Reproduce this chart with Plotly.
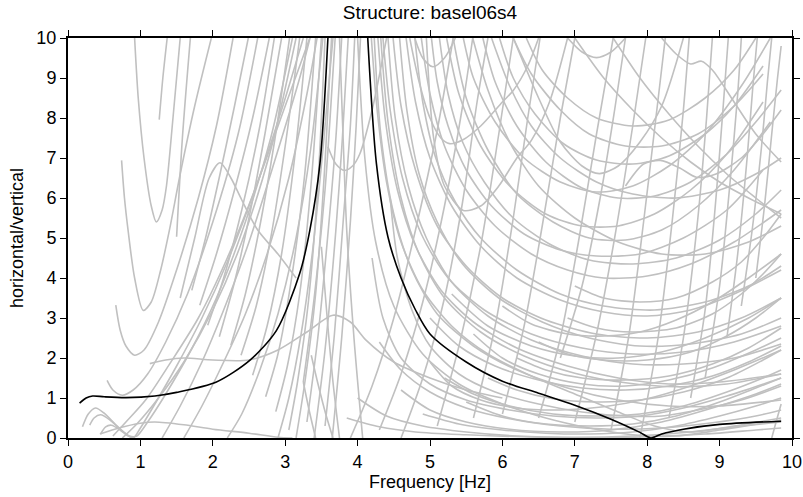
import plotly.graph_objects as go

# ---------------- data ----------------
title_text = "Structure: basel06s4"
x_label = "Frequency [Hz]"
y_label = "horizontal/vertical"
x_ticks = [0, 1, 2, 3, 4, 5, 6, 7, 8, 9, 10]
y_ticks = [0, 1, 2, 3, 4, 5, 6, 7, 8, 9, 10]

# best model ellipticity (black curve)
black_left_freq = [0.16, 0.25, 0.34, 0.5, 0.8, 1.2, 1.5, 2.05, 2.51, 2.88, 3.2, 3.34, 3.48, 3.59]
black_left_hv = [0.87, 1.0, 1.05, 1.03, 1.01, 1.05, 1.14, 1.40, 1.94, 2.69, 4.11, 5.19, 6.86, 10.0]
black_right_freq = [4.14, 4.26, 4.42, 4.6, 4.8, 5.0, 5.5, 6.0, 6.5, 7.0, 7.5, 7.9, 8.05, 8.2, 8.5, 9.0, 9.85]
black_right_hv = [10.0, 6.86, 5.02, 4.0, 3.2, 2.6, 1.9, 1.42, 1.12, 0.82, 0.47, 0.14, 0.0, 0.1, 0.22, 0.34, 0.42]

# gray curves, low-frequency region: (freq, hv) pairs
gray_low = [
    ([0.92, 0.97, 1.05, 1.15, 1.22, 1.30, 1.36, 1.45, 1.55], [10, 8.5, 7.0, 5.8, 5.4, 5.7, 6.3, 8.0, 10]),
    ([1.26, 1.31, 1.37], [7.96, 9.0, 10]),
    ([0.74, 0.78, 0.83, 0.92, 1.04, 1.15, 1.28, 1.40, 1.55, 1.75, 1.98], [6.94, 6.0, 5.19, 4.0, 3.19, 3.4, 4.2, 5.19, 6.6, 8.3, 10]),
    ([0.66, 0.72, 0.80, 0.92, 1.05, 1.25, 1.5, 1.8, 2.05, 2.28], [3.32, 2.7, 2.3, 2.07, 2.2, 2.9, 4.2, 6.0, 7.8, 10]),
    ([0.54, 0.62, 0.75, 0.9, 1.1, 1.35, 1.65, 2.0, 2.35, 2.62], [1.44, 1.2, 1.07, 1.2, 1.6, 2.4, 3.6, 5.4, 7.6, 10]),
    ([0.2, 0.28, 0.38, 0.5, 0.65, 0.8, 0.9, 1.0, 1.2, 1.5, 1.85, 2.2, 2.6, 2.95, 3.25], [0.28, 0.6, 0.75, 0.62, 0.35, 0.1, 0.0, 0.25, 0.85, 1.8, 3.0, 4.4, 6.3, 8.2, 10]),
    ([0.3, 0.36, 0.45, 0.58, 0.72, 0.85, 0.95, 1.1, 1.35, 1.7, 2.05, 2.45, 2.8, 3.1], [0.32, 0.5, 0.58, 0.45, 0.22, 0.05, 0.05, 0.4, 1.1, 2.2, 3.5, 5.4, 7.5, 10]),
    ([0.45, 0.52, 0.6, 0.72, 0.82, 0.92], [0.1, 0.28, 0.32, 0.2, 0.06, 0.0]),
    ([0.62, 0.8, 1.08, 1.4, 1.8, 2.2, 2.6, 3.0, 3.4], [0.05, 0.4, 0.97, 1.84, 3.0, 4.5, 6.3, 8.3, 10.3]),
    ([0.75, 0.95, 1.25, 1.6, 2.0, 2.4, 2.8, 3.15], [0.0, 0.35, 1.0, 1.9, 3.2, 4.9, 7.2, 10]),
    ([0.44, 0.7, 1.0, 1.2, 1.6, 2.0, 2.5, 2.9, 3.1], [0.1, 0.25, 0.37, 0.4, 0.33, 0.22, 0.12, 0.02, 0.0]),
    ([1.13, 1.35, 1.6, 2.0, 2.5, 2.9, 3.3, 3.66, 3.9, 4.12, 4.5, 5.0, 5.5, 6.0], [1.86, 1.95, 2.0, 1.95, 1.95, 2.2, 2.65, 3.07, 2.9, 2.44, 1.9, 1.5, 1.2, 1.0]),
    ([1.55, 1.75, 1.95, 2.1, 2.25, 2.4, 2.62, 2.9, 3.15], [3.5, 5.0, 6.5, 6.88, 6.5, 5.95, 5.2, 4.6, 4.0]),
    ([1.3, 1.55, 1.85, 2.15, 2.5, 2.85, 3.2, 3.37], [0.0, 0.8, 1.9, 3.2, 4.9, 6.9, 9.0, 10.2]),
    ([1.6, 1.85, 2.15, 2.45, 2.75, 3.05, 3.3, 3.45], [0.0, 0.8, 1.9, 3.1, 4.6, 6.5, 8.6, 10.1]),
    ([2.2, 2.4, 2.65, 2.9, 3.15, 3.35, 3.52], [0.0, 0.6, 1.7, 3.1, 5.0, 7.2, 10]),
    ([2.9, 3.05, 3.22, 3.38, 3.52, 3.66], [0.0, 1.0, 2.6, 4.7, 7.2, 10]),
]

# gray higher-mode branches that start above the axis
gray_cutoff = [
    ([1.50, 1.58, 1.69], [5.03, 7.5, 10]),
    ([1.71, 1.9, 2.1, 2.3, 2.49], [3.69, 5.0, 6.6, 8.3, 10]),
    ([1.82, 2.05, 2.3, 2.55, 2.78], [3.32, 4.6, 6.2, 8.0, 10]),
    ([1.93, 2.15, 2.4, 2.65, 2.85], [2.82, 4.0, 5.7, 7.8, 10]),
    ([2.09, 2.3, 2.5, 2.72, 2.95], [2.53, 3.9, 5.5, 7.6, 10]),
    ([2.25, 2.45, 2.65, 2.86, 3.06], [2.32, 3.6, 5.3, 7.5, 10]),
    ([2.39, 2.6, 2.8, 3.0, 3.2], [2.07, 3.3, 5.0, 7.3, 10]),
    ([2.55, 2.75, 2.95, 3.13, 3.3], [1.57, 2.8, 4.6, 7.0, 10]),
    ([2.73, 2.9, 3.08, 3.27, 3.42], [1.03, 2.1, 3.9, 6.6, 10]),
    ([2.87, 3.03, 3.2, 3.36, 3.5], [0.66, 1.8, 3.6, 6.4, 10]),
    ([3.05, 3.17, 3.32, 3.45, 3.55], [0.2, 1.4, 3.4, 6.3, 10]),
    ([3.15, 3.28, 3.42, 3.54, 3.64], [0.0, 1.5, 3.6, 6.6, 10]),
    ([3.25, 3.4, 3.55, 3.62, 3.69], [1.4, 3.5, 6.2, 8.0, 10]),
    ([3.3, 3.45, 3.6, 3.7, 3.78], [0.4, 2.5, 5.3, 7.5, 10]),
    ([3.4, 3.55, 3.7, 3.79, 3.87], [0.0, 2.2, 5.2, 7.5, 10]),
    ([3.55, 3.68, 3.8, 3.9, 3.96], [0.3, 2.6, 5.4, 7.8, 10]),
    ([3.65, 3.78, 3.9, 3.98, 4.04], [0.0, 2.5, 5.4, 7.8, 10]),
    ([3.59, 3.7, 3.82, 3.93, 4.03, 4.2, 4.4], [7.28, 6.85, 6.69, 6.8, 7.1, 8.2, 10]),
    ([3.5, 3.58, 3.66, 3.75], [4.78, 3.0, 1.4, 0.0]),
    ([3.25, 3.33, 3.42], [1.4, 0.7, 0.0]),
    ([3.36, 3.46, 3.56, 3.66], [2.07, 1.3, 0.6, 0.0]),
    ([3.75, 3.8, 3.85, 3.95, 4.07], [10, 7.5, 5.19, 2.5, 0.0]),
]

# gray descending branches and arcs (high-frequency side)
gray_arcs = [
    ([4.19, 4.27, 4.4, 4.6, 4.9, 5.3, 5.8, 6.4, 7.0, 7.6, 8.1, 8.6, 9.2, 9.85], [10, 8.2, 6.4, 4.9, 3.7, 2.8, 2.1, 1.55, 1.1, 0.65, 0.3, 0.15, 0.3, 0.5]),
    ([4.28, 4.38, 4.55, 4.8, 5.15, 5.6, 6.2, 6.9, 7.6, 8.3, 9.0, 9.85], [10, 8.0, 6.2, 4.8, 3.7, 2.9, 2.25, 1.8, 1.5, 1.35, 1.4, 1.6]),
    ([4.35, 4.45, 4.62, 4.88, 5.25, 5.75, 6.4, 7.1, 7.8, 8.5, 9.2, 9.85], [10, 8.2, 6.5, 5.1, 4.0, 3.2, 2.6, 2.25, 2.1, 2.15, 2.4, 2.8]),
    ([4.49, 4.6, 4.8, 5.1, 5.5, 6.0, 6.6, 7.3, 8.0, 8.7, 9.3, 9.85], [10, 8.3, 6.7, 5.3, 4.3, 3.5, 2.95, 2.6, 2.5, 2.65, 3.0, 3.5]),
    ([4.67, 4.8, 5.0, 5.3, 5.7, 6.2, 6.8, 7.4, 8.0, 8.6, 9.2, 9.85], [10, 8.4, 7.0, 5.8, 4.8, 4.0, 3.45, 3.15, 3.05, 3.2, 3.6, 4.2]),
    ([4.88, 5.0, 5.2, 5.5, 5.9, 6.4, 6.9, 7.4, 8.0, 8.6, 9.2, 9.85], [10, 8.6, 7.3, 6.2, 5.3, 4.6, 4.2, 4.0, 4.05, 4.35, 4.9, 5.7]),
    ([5.02, 5.1, 5.25, 5.5, 5.85, 6.3, 6.8, 7.3, 7.9, 8.5, 9.1, 9.6], [10, 8.9, 7.8, 6.7, 5.8, 5.1, 4.7, 4.55, 4.6, 5.0, 5.7, 6.7]),
    ([5.23, 5.4, 5.7, 6.1, 6.6, 7.1, 7.6, 8.1, 8.6, 9.1, 9.6], [10, 8.6, 7.3, 6.3, 5.6, 5.3, 5.3, 5.6, 6.2, 7.1, 8.4]),
    ([5.46, 5.6, 5.9, 6.3, 6.8, 7.3, 7.8, 8.3, 8.8, 9.3, 9.7], [10, 9.0, 7.9, 7.0, 6.4, 6.15, 6.3, 6.8, 7.6, 8.8, 10]),
    ([4.72, 4.85, 5.0, 5.15, 5.27, 5.45, 5.7, 6.0, 6.15, 6.35, 6.5], [10, 8.9, 8.0, 7.5, 7.36, 7.45, 7.8, 8.4, 8.69, 9.3, 10]),
    ([4.95, 5.05, 5.2, 5.46, 5.7, 5.95, 6.2, 6.4, 6.65, 6.9], [10, 7.5, 6.3, 5.69, 5.8, 6.3, 7.0, 7.44, 8.4, 10]),
    ([4.79, 4.9, 5.04, 5.2, 5.35], [10, 9.5, 9.28, 9.5, 10]),
    ([6.9, 7.1, 7.3, 7.5, 7.7], [10, 9.65, 9.51, 9.65, 10]),
    ([6.15, 6.5, 6.8, 7.1, 7.34, 7.6, 7.9, 8.2, 8.5], [10, 8.5, 7.4, 6.8, 6.61, 6.8, 7.4, 8.3, 10]),
    ([4.0, 4.1, 4.25, 4.5, 4.9, 5.4, 6.0, 6.6, 7.2, 7.8, 8.4, 9.0, 9.85], [10, 7.0, 4.9, 3.3, 2.1, 1.35, 0.85, 0.5, 0.25, 0.08, 0.05, 0.2, 0.45]),
    ([4.45, 4.55, 4.75, 5.0, 5.4, 5.9, 6.5, 7.1, 7.7, 8.2, 8.7, 9.3, 9.85], [6.0, 4.5, 3.2, 2.3, 1.6, 1.15, 0.85, 0.65, 0.55, 0.55, 0.7, 0.95, 1.3]),
    ([4.2, 4.35, 4.6, 5.0, 5.5, 6.1, 6.7, 7.3, 7.9, 8.5, 9.1, 9.85], [4.5, 3.0, 2.0, 1.35, 0.95, 0.7, 0.55, 0.5, 0.55, 0.75, 1.05, 1.5]),
    ([5.0, 5.3, 5.7, 6.2, 6.8, 7.4, 8.0, 8.6, 9.2, 9.85], [1.9, 1.3, 0.95, 0.75, 0.7, 0.78, 0.98, 1.3, 1.7, 2.2]),
    ([4.6, 5.0, 5.5, 6.1, 6.8, 7.5, 8.2, 8.9, 9.5, 9.85], [1.2, 0.7, 0.4, 0.22, 0.15, 0.2, 0.4, 0.75, 1.1, 1.35]),
    ([5.6, 6.0, 6.5, 7.1, 7.7, 8.3, 8.9, 9.5, 9.85], [2.6, 2.0, 1.6, 1.35, 1.3, 1.45, 1.75, 2.2, 2.5]),
    ([4.0, 4.4, 4.9, 5.5, 6.2, 7.0, 7.8, 8.6, 9.3, 9.85], [1.0, 0.55, 0.3, 0.15, 0.05, 0.02, 0.05, 0.15, 0.3, 0.4]),
    ([3.85, 4.3, 4.8, 5.5, 6.3, 7.2, 8.0, 8.8, 9.5, 9.85], [0.5, 0.28, 0.15, 0.08, 0.03, 0.0, 0.03, 0.1, 0.2, 0.25]),
    ([5.3, 5.8, 6.4, 7.0, 7.6, 8.2, 8.8, 9.4, 9.85], [3.6, 2.8, 2.3, 2.05, 2.0, 2.15, 2.5, 3.0, 3.5]),
    ([6.0, 6.4, 6.9, 7.4, 7.9, 8.4, 8.9, 9.4, 9.85], [3.3, 2.85, 2.6, 2.55, 2.65, 2.95, 3.4, 4.0, 4.6]),
    ([7.7, 7.95, 8.18, 8.45, 8.68, 8.95, 9.3, 9.6, 9.85], [6.3, 6.85, 6.94, 6.75, 6.52, 6.6, 7.0, 7.6, 8.2]),
    ([8.2, 8.4, 8.6, 8.75, 8.9, 9.2, 9.5, 9.85], [10, 9.6, 9.35, 9.42, 9.2, 8.4, 7.6, 6.9]),
    ([5.59, 5.8, 6.1, 6.5, 7.0, 7.6, 8.2, 8.8, 9.4, 9.85], [10, 8.7, 7.4, 6.3, 5.5, 4.9, 4.6, 4.6, 4.9, 5.3]),
    ([5.85, 6.1, 6.4, 6.8, 7.3, 7.8, 8.4, 9.0, 9.5, 9.85], [10, 8.8, 7.8, 7.0, 6.4, 6.1, 6.0, 6.2, 6.6, 7.0]),
    ([6.15, 6.4, 6.8, 7.2, 7.7, 8.2, 8.7, 9.2, 9.6], [10, 9.1, 8.2, 7.6, 7.3, 7.3, 7.6, 8.3, 9.1]),
    ([7.0, 7.4, 7.8, 8.2, 8.6, 9.0, 9.4, 9.85], [10, 9.0, 8.2, 7.5, 6.9, 6.4, 6.0, 5.6]),
    ([7.53, 7.9, 8.3, 8.7, 9.1, 9.5, 9.85], [10, 9.0, 8.1, 7.3, 6.6, 6.0, 5.5]),
]

# more gray right branches falling from the top edge
gray_falling = [
    ([4.23, 4.32, 4.5, 4.75, 5.1, 5.6, 6.2, 6.9, 7.6, 8.3, 9.0, 9.85], [10, 7.6, 5.6, 4.2, 3.1, 2.3, 1.7, 1.25, 0.95, 0.8, 0.8, 0.95]),
    ([4.32, 4.42, 4.6, 4.85, 5.2, 5.7, 6.3, 7.0, 7.7, 8.4, 9.1, 9.85], [10, 7.9, 6.0, 4.6, 3.5, 2.65, 2.05, 1.62, 1.38, 1.28, 1.35, 1.6]),
    ([4.42, 4.52, 4.7, 4.95, 5.3, 5.8, 6.4, 7.1, 7.8, 8.5, 9.2, 9.85], [10, 8.0, 6.3, 5.0, 3.9, 3.05, 2.45, 2.05, 1.85, 1.85, 2.0, 2.35]),
    ([4.58, 4.68, 4.85, 5.1, 5.45, 5.95, 6.55, 7.2, 7.9, 8.6, 9.3, 9.85], [10, 8.2, 6.6, 5.4, 4.35, 3.5, 2.9, 2.5, 2.3, 2.35, 2.6, 3.0]),
    ([4.79, 4.9, 5.08, 5.35, 5.7, 6.2, 6.8, 7.4, 8.1, 8.8, 9.4, 9.85], [10, 8.4, 7.0, 5.9, 5.0, 4.2, 3.6, 3.3, 3.2, 3.4, 3.8, 4.3]),
    ([5.13, 5.25, 5.45, 5.75, 6.15, 6.65, 7.2, 7.8, 8.4, 9.0, 9.5, 9.85], [10, 8.6, 7.4, 6.4, 5.5, 4.85, 4.45, 4.35, 4.5, 4.95, 5.6, 6.2]),
    ([5.32, 5.5, 5.8, 6.2, 6.7, 7.2, 7.7, 8.2, 8.7, 9.2, 9.7], [10, 8.5, 7.2, 6.1, 5.4, 5.0, 4.95, 5.2, 5.8, 6.7, 7.9]),
    ([5.73, 5.9, 6.2, 6.6, 7.1, 7.6, 8.1, 8.6, 9.1, 9.5, 9.85], [10, 8.9, 7.8, 6.9, 6.25, 6.0, 6.05, 6.4, 7.1, 7.9, 8.7]),
    ([5.96, 6.15, 6.45, 6.85, 7.3, 7.8, 8.3, 8.8, 9.2, 9.6], [10, 9.0, 8.1, 7.35, 6.95, 6.85, 7.05, 7.6, 8.3, 9.3]),
    ([6.33, 6.55, 6.9, 7.3, 7.8, 8.3, 8.8, 9.2, 9.5], [10, 9.2, 8.5, 8.0, 7.8, 7.95, 8.5, 9.2, 10]),
    ([5.2, 5.6, 6.1, 6.7, 7.3, 7.9, 8.5, 9.1, 9.6, 9.85], [1.5, 1.1, 0.8, 0.6, 0.55, 0.6, 0.8, 1.15, 1.5, 1.7]),
    ([5.8, 6.2, 6.7, 7.3, 7.9, 8.5, 9.1, 9.6, 9.85], [1.5, 1.2, 0.98, 0.9, 0.95, 1.15, 1.5, 1.95, 2.2]),
    ([6.2, 6.6, 7.1, 7.7, 8.3, 8.9, 9.4, 9.85], [2.0, 1.7, 1.5, 1.45, 1.55, 1.85, 2.25, 2.75]),
    ([6.5, 6.9, 7.4, 8.0, 8.6, 9.1, 9.5, 9.85], [2.4, 2.1, 1.95, 1.95, 2.15, 2.55, 3.0, 3.5]),
    ([6.9, 7.3, 7.8, 8.4, 8.9, 9.3, 9.6, 9.85], [3.0, 2.75, 2.65, 2.75, 3.1, 3.6, 4.1, 4.6]),
    ([4.9, 5.4, 6.0, 6.6, 7.2, 7.8, 8.4, 9.0, 9.5, 9.85], [0.6, 0.35, 0.2, 0.12, 0.1, 0.15, 0.3, 0.55, 0.8, 1.0]),
    ([5.5, 6.0, 6.6, 7.2, 7.8, 8.4, 9.0, 9.5, 9.85], [0.9, 0.55, 0.35, 0.3, 0.35, 0.55, 0.9, 1.25, 1.5]),
    ([7.0, 7.4, 7.9, 8.4, 8.9, 9.3, 9.6, 9.85], [3.8, 3.5, 3.4, 3.5, 3.9, 4.4, 5.0, 5.6]),
    ([4.3, 4.6, 5.0, 5.5, 6.1, 6.8, 7.5, 8.2, 8.9, 9.5, 9.85], [2.4, 1.7, 1.15, 0.75, 0.48, 0.3, 0.22, 0.25, 0.38, 0.55, 0.7]),
    ([5.0, 5.4, 5.9, 6.5, 7.1, 7.7, 8.3, 8.9, 9.4, 9.85], [3.0, 2.3, 1.8, 1.45, 1.25, 1.2, 1.3, 1.55, 1.9, 2.3]),
]

# gray rising branches on the high-frequency side
gray_rising = [
    ([4.3, 4.6, 4.9, 5.2, 5.45, 5.59], [0.2, 1.6, 3.4, 5.8, 8.3, 10]),
    ([4.6, 4.9, 5.2, 5.45, 5.65, 5.8], [0.0, 1.5, 3.5, 5.9, 8.4, 10]),
    ([5.1, 5.4, 5.7, 5.95, 6.15], [0.3, 2.3, 4.8, 7.6, 10]),
    ([5.6, 5.9, 6.15, 6.35, 6.52], [0.5, 2.8, 5.5, 8.0, 10]),
    ([6.0, 6.3, 6.55, 6.8, 7.0], [0.6, 2.8, 5.3, 8.0, 10]),
    ([6.5, 6.8, 7.05, 7.3, 7.53], [0.5, 2.5, 4.9, 7.6, 10]),
    ([7.0, 7.3, 7.55, 7.8, 7.98], [0.4, 2.6, 5.0, 7.8, 10]),
    ([3.9, 4.2, 4.5, 4.8, 5.1, 5.32], [0.0, 1.3, 3.0, 5.2, 7.7, 10]),
    ([6.8, 7.1, 7.35, 7.55, 7.7], [2.0, 3.8, 6.0, 8.2, 10]),
    ([7.5, 7.75, 7.95, 8.12, 8.25], [0.2, 2.6, 5.4, 8.0, 10]),
    ([7.9, 8.15, 8.35, 8.5, 8.58], [0.0, 2.5, 5.5, 8.2, 10]),
    ([8.3, 8.5, 8.7, 8.82, 8.9], [0.5, 2.5, 5.5, 8.0, 10]),
    ([8.6, 8.8, 8.95, 9.05, 9.12], [1.0, 3.2, 6.0, 8.3, 10]),
    ([8.8, 9.0, 9.15, 9.25, 9.3], [1.5, 3.8, 6.5, 8.6, 10]),
    ([9.1, 9.25, 9.38, 9.46, 9.52], [2.5, 4.6, 7.0, 8.8, 10]),
    ([9.3, 9.45, 9.58, 9.66, 9.72], [3.3, 5.2, 7.3, 8.9, 10]),
    ([9.5, 9.62, 9.72, 9.8, 9.85], [4.0, 5.8, 7.6, 9.0, 9.8]),
    ([9.72, 9.78, 9.85], [0.0, 0.4, 0.85]),
]

GRAY = "#c0c0c0"
BLACK = "#000000"

fig = go.Figure()
for group in (gray_low, gray_cutoff, gray_arcs, gray_falling, gray_rising):
    for fx, hv in group:
        fig.add_trace(go.Scatter(x=fx, y=hv, mode="lines",
                                 line=dict(color=GRAY, width=1.6, shape="spline", smoothing=0.8),
                                 hoverinfo="skip", showlegend=False))

for fx, hv in ((black_left_freq, black_left_hv), (black_right_freq, black_right_hv)):
    fig.add_trace(go.Scatter(x=fx, y=hv, mode="lines",
                             line=dict(color=BLACK, width=1.6, shape="spline", smoothing=0.8),
                             hoverinfo="skip", showlegend=False))

axis_common = dict(range=[0, 10], showgrid=False, zeroline=False, showline=True,
                   linecolor="black", linewidth=2, mirror="allticks",
                   ticks="outside", ticklen=6, tickwidth=1, tickcolor="black",
                   tickfont=dict(size=18, color="black"), automargin=False)

fig.update_layout(
    width=803, height=497,
    margin=dict(l=68, r=11, t=38, b=59, autoexpand=False),
    plot_bgcolor="white", paper_bgcolor="white",
    font=dict(family="Liberation Sans, Arial, sans-serif", size=18, color="black"),
    title=dict(text=title_text, x=0.5, xref="paper", y=0.975, yanchor="middle",
               font=dict(size=19, color="black"), automargin=False),
    showlegend=False,
)
fig.update_xaxes(**axis_common, tickvals=x_ticks,
                 title=dict(text=x_label, font=dict(size=18), standoff=4))
fig.update_yaxes(**axis_common, tickvals=y_ticks,
                 title=dict(text=y_label, font=dict(size=18), standoff=8))

fig.write_html("out.html", config={"displayModeBar": False},
               post_script="document.body.style.margin='0';")
